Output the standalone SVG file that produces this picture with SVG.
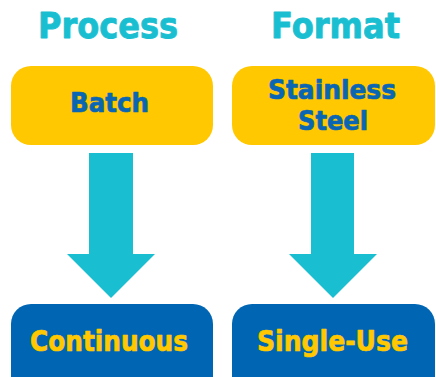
<svg xmlns="http://www.w3.org/2000/svg" width="436" height="377" viewBox="0 0 436 377">
<style>
text{font-family:"DejaVu Sans","Verdana",sans-serif;font-weight:bold;text-anchor:middle;stroke-width:0.7px;stroke-linejoin:round}
.title{fill:#19BFD1;stroke:#19BFD1;font-size:35px;stroke-width:0.9px}
.top rect{fill:#FFC800}
.top text{fill:#0A66B2;stroke:#0A66B2;font-size:26px}
.bot rect{fill:#0066B3}
.bot text{fill:#FFC800;stroke:#FFC800;font-size:28px}
.arrow{fill:#19BFD1}
</style>
<g id="titles">
<text class="title" x="108" y="38" textLength="140" lengthAdjust="spacingAndGlyphs">Process</text>
<text class="title" x="335.5" y="38" textLength="129" lengthAdjust="spacingAndGlyphs">Format</text>
</g>
<g id="batch" class="top">
<rect x="11" y="66" width="202" height="79" rx="20"/>
<text x="109.5" y="112" textLength="79" lengthAdjust="spacingAndGlyphs">Batch</text>
</g>
<g id="stainless" class="top">
<rect x="232" y="66" width="203" height="79" rx="20"/>
<text x="332" y="99" textLength="128" lengthAdjust="spacingAndGlyphs">Stainless</text>
<text x="333" y="130" textLength="70" lengthAdjust="spacingAndGlyphs">Steel</text>
</g>
<g id="continuous" class="bot">
<rect x="11" y="304" width="202" height="100" rx="20"/>
<text x="109" y="351" textLength="158" lengthAdjust="spacingAndGlyphs">Continuous</text>
</g>
<g id="singleuse" class="bot">
<rect x="232" y="304" width="203" height="100" rx="20"/>
<text x="332.5" y="351" textLength="151" lengthAdjust="spacingAndGlyphs">Single-Use</text>
</g>
<g id="connectors">
<polygon class="arrow" points="89,153 133,153 133,254 155,254 111,298 67,254 89,254"/>
<polygon class="arrow" points="311,153 354,153 354,254 377,254 333,298 289,254 311,254"/>
</g>
</svg>
